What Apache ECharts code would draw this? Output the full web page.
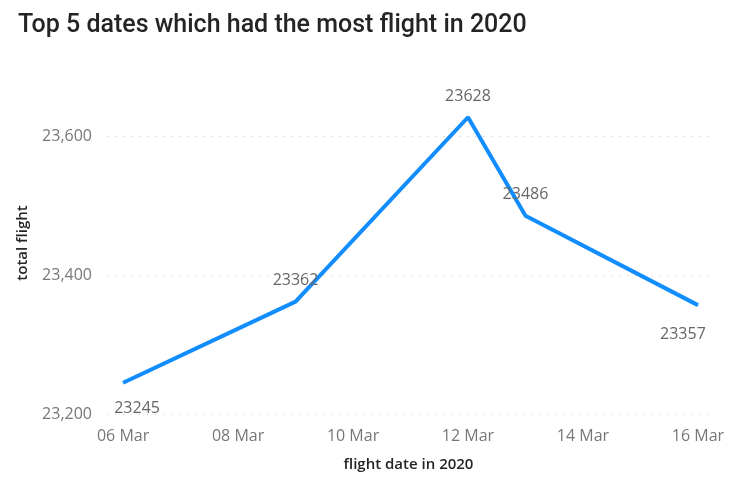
<!DOCTYPE html>
<html>
<head>
<meta charset="utf-8">
<script src="https://cdn.jsdelivr.net/npm/echarts@6/dist/echarts.min.js"></script>
<style>
  html, body { margin: 0; padding: 0; background: #fff; }
  #main { width: 729px; height: 477px; }
</style>
</head>
<body>
<div id="main"></div>
<script>
// data
var flightDates = ['2020-03-06', '2020-03-09', '2020-03-12', '2020-03-13', '2020-03-16'];
var totalFlights = [23245, 23362, 23628, 23486, 23357];
var tickDates = ['2020-03-06', '2020-03-08', '2020-03-10', '2020-03-12', '2020-03-14', '2020-03-16'];
var monthNames = ['Jan', 'Feb', 'Mar', 'Apr', 'May', 'Jun', 'Jul', 'Aug', 'Sep', 'Oct', 'Nov', 'Dec'];

function toTime(s) {
    var p = s.split('-');
    return new Date(+p[0], +p[1] - 1, +p[2]).getTime();
}
var DAY = 86400000;

// label placement per point (styles, kept apart from the data)
var labelSpots = [
    { position: 'bottom', offset: [14, 12] },
    { position: 'top', offset: [0, -8] },
    { position: 'top', offset: [0, -7] },
    { position: 'top', offset: [0, -8] },
    { position: 'bottom', offset: [-15, 16] }
];

var seriesData = flightDates.map(function (d, i) {
    return {
        value: [toTime(d), totalFlights[i]],
        label: labelSpots[i]
    };
});

var myChart = echarts.init(document.getElementById('main'));

var gridColor = '#c8c8c8';

var option = {
    backgroundColor: '#fff',
    textStyle: { fontFamily: 'Open Sans' },
    title: {
        text: 'Top 5 dates which had the most flight in 2020',
        left: 13,
        top: 8,
        textStyle: {
            fontFamily: 'Roboto',
            fontSize: 25,
            fontWeight: 500,
            color: '#252423'
        }
    },
    grid: {
        left: 107,
        right: 19,
        top: 102,
        bottom: 62
    },
    xAxis: {
        // dates as timestamps on a value scale, so the ticks can be placed exactly
        type: 'value',
        min: toTime(flightDates[0]) - 0.28 * DAY,
        max: toTime(flightDates[flightDates.length - 1]) + 0.21 * DAY,
        name: 'flight date in 2020',
        nameLocation: 'middle',
        nameGap: 43,
        nameTextStyle: { fontSize: 15, fontWeight: 600, color: '#252423' },
        axisLine: { show: false },
        axisTick: { show: false },
        splitLine: { show: false },
        axisLabel: {
            customValues: tickDates.map(toTime),
            margin: 14,
            fontSize: 16,
            color: '#777',
            formatter: function (v) {
                var d = new Date(v);
                var dd = d.getDate();
                return (dd < 10 ? '0' + dd : dd) + ' ' + monthNames[d.getMonth()];
            }
        }
    },
    yAxis: {
        type: 'value',
        min: 23200,
        max: 23650,
        interval: 200,
        name: 'total flight',
        nameLocation: 'middle',
        nameGap: 77,
        nameTextStyle: {
            fontSize: 15,
            fontWeight: 600,
            color: '#252423',
            padding: [0, 0, 0, 30]
        },
        axisLine: { show: false },
        axisTick: { show: false },
        axisLabel: {
            margin: 15,
            fontSize: 16,
            color: '#777',
            showMaxLabel: false
        },
        splitLine: {
            // no line at the top edge of the plot
            lineStyle: { color: [gridColor, gridColor, gridColor, 'rgba(0,0,0,0)'], type: [1, 7], width: 1 }
        }
    },
    series: [{
        name: 'total flight',
        type: 'line',
        data: seriesData,
        clip: false,
        showSymbol: true,
        symbol: 'circle',
        symbolSize: 1,
        lineStyle: { color: '#118DFF', width: 4 },
        itemStyle: { color: '#118DFF' },
        label: {
            show: true,
            fontSize: 16,
            color: '#666',
            formatter: function (p) { return p.value[1]; }
        }
    }]
};

myChart.setOption(option);
</script>
</body>
</html>
